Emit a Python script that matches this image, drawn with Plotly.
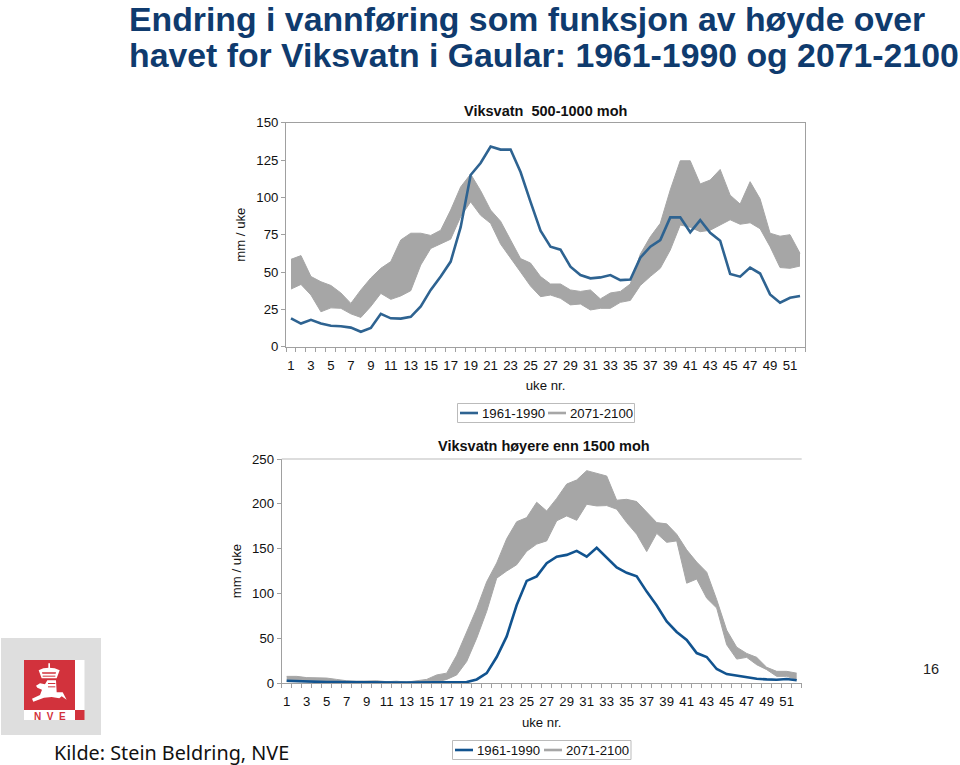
import plotly.graph_objects as go

TITLE_1 = "Endring i vannføring som funksjon av høyde over"
TITLE_2 = "havet for Viksvatn i Gaular: 1961-1990 og 2071-2100"
SOURCE = "Kilde: Stein Beldring, NVE"
PAGE_NO = "16"
CHART_A = "Viksvatn  500-1000 moh"
CHART_B = "Viksvatn høyere enn 1500 moh"
SERIES_OLD = "1961-1990"
SERIES_NEW = "2071-2100"

weeks = list(range(1, 53))
tick_weeks = list(range(1, 52, 2))

a_old = [19, 15.5, 18, 15.5, 14, 13.7, 12.8, 10, 12.5, 22, 19, 18.8, 20, 27, 38, 47, 57, 80, 115, 123, 134, 132, 132,
         117, 97, 77.7, 67, 65, 53.6, 48, 45.8, 46.4, 48, 44.6, 45, 59.6, 67, 71.4, 86.6, 86.6, 76.6, 84.8, 76.3, 71,
         48.7, 46.9, 53, 49, 35, 29.5, 32.8, 34]
a_new_high = [58.5, 61, 47, 43.5, 41, 36, 29, 38, 46, 52.5, 57, 71.5, 76, 76, 74.5, 78, 91.5, 107, 115.6, 104.5, 91.5,
              84, 71.5, 59, 56, 47, 42, 42, 38, 37, 38, 32, 36, 37, 42, 62, 73.6, 82.6, 105, 124.5, 124.5, 109, 111.6,
              118.7, 101.5, 95.5, 110.5, 99, 76, 74, 75, 62.5]
a_new_low = [38.6, 41.7, 34.6, 23.4, 26, 25.7, 22, 19.6, 27, 35.7, 31.7, 34, 37.5, 54.7, 65.8, 69, 72, 87, 97, 88, 82.6,
             68.7, 59, 50, 40.6, 33.5, 34.6, 32.4, 28, 28.6, 24.6, 25.7, 25.7, 29.7, 31, 41, 47, 52.5, 64.7, 81.5, 80,
             77, 78, 81.5, 85, 82, 83, 79, 67, 53, 52.5, 54]

b_old = [2.5, 2, 1.5, 1.3, 1, 1, 0.8, 0.8, 0.7, 0.7, 0.5, 0.5, 0.5, 0.5, 0.5, 0.5, 0.5, 0.5, 1, 4, 11, 29, 52, 87,
         114, 119, 133.7, 141, 143, 147.5, 141, 151, 140, 129, 123, 119, 102, 86.5, 68.7, 57, 48, 33.4, 29, 15.6, 10,
         8, 6.3, 4.8, 4, 3.7, 4.5, 3]
b_new_high = [7.4, 7.4, 6, 5.5, 5.5, 4, 2.5, 2, 2, 2.5, 1.5, 2, 1, 2.5, 4, 9, 11, 31, 57, 83, 113, 134, 161, 180,
              184.6, 201.7, 192, 206, 222, 226.6, 237, 234, 231, 204, 205, 202.5, 190.6, 179, 177.6, 166, 148.6, 135,
              123.7, 93, 59, 40, 33, 28.6, 17.5, 13, 13, 11]
b_new_low = [1.5, 1.5, 1, 1, 1, 0.8, 0.6, 0.6, 0.5, 0.5, 0.4, 0.4, 0.4, 0.4, 0.5, 1, 4, 9, 24, 50, 80, 117, 125, 132,
             147, 155, 158.6, 181, 186.5, 181.6, 199.5, 197.6, 198, 194, 179, 166, 146.7, 167, 157, 158.6, 111.4, 116,
             94.7, 83.6, 42.7, 26.7, 28.6, 20.4, 14.9, 7.4, 7.4, 3.7]

BAND = "#A6A6A6"
AXIS = "#A0A0A0"
FONT = "Liberation Sans"
RED = "#D2323C"
TITLE_COLOR = "#0F3B6E"
W, H = 960, 765


def X(px):
    return px / W


def Y(py):
    return 1 - py / H


fig = go.Figure()


def add_chart(old, low, high, line_color, xa, ya):
    fig.add_trace(go.Scatter(x=weeks, y=low, mode="lines", name=SERIES_NEW + " min", line=dict(color=BAND, width=1),
                             xaxis=xa, yaxis=ya, showlegend=False))
    fig.add_trace(go.Scatter(x=weeks, y=high, mode="lines", name=SERIES_NEW + " max", line=dict(color=BAND, width=1),
                             fill="tonexty", fillcolor=BAND, xaxis=xa, yaxis=ya, showlegend=False))
    fig.add_trace(go.Scatter(x=weeks, y=old, mode="lines", name=SERIES_OLD, line=dict(color=line_color, width=2.6),
                             xaxis=xa, yaxis=ya, showlegend=False))


add_chart(a_old, a_new_low, a_new_high, "#2E6391", "x", "y")
add_chart(b_old, b_new_low, b_new_high, "#11538F", "x2", "y2")

tfont = dict(size=13.2, color="#111111", family=FONT)
xcommon = dict(range=[0.5, 52.5], tickmode="array", tickvals=tick_weeks, ticktext=[str(t) for t in tick_weeks],
               ticks="", showgrid=False, showline=True, linecolor=AXIS, linewidth=1, zeroline=False,
               tickfont=tfont, ticklabelstandoff=6,
               title=dict(text="uke nr.", font=tfont, standoff=9),
               minor=dict(tick0=0.5, dtick=1, ticks="outside", ticklen=4, tickcolor=AXIS, showgrid=False))
ycommon = dict(showgrid=False, showline=True, linecolor=AXIS, linewidth=1, zeroline=False, ticks="outside", ticklen=4,
               tickcolor=AXIS, tickfont=tfont,
               title=dict(text="mm / uke", font=tfont, standoff=7))

fig.update_layout(
    width=W, height=H, margin=dict(l=0, r=0, t=0, b=0, autoexpand=False), autosize=False, showlegend=False,
    paper_bgcolor="white", plot_bgcolor="white",
    xaxis=dict(domain=[X(286), X(805)], anchor="y", mirror=True, **xcommon),
    yaxis=dict(domain=[Y(346.7), Y(122.7)], anchor="x", range=[0, 150], tickvals=[0, 25, 50, 75, 100, 125, 150],
               mirror=True, **ycommon),
    xaxis2=dict(domain=[X(281.7), X(801.7)], anchor="y2", **xcommon),
    yaxis2=dict(domain=[Y(683), Y(459)], anchor="x2", range=[0, 250], tickvals=[0, 50, 100, 150, 200, 250], **ycommon),
)


def text(txt, x, y, size, color, bold=False, anchor="left", family=FONT):
    fig.add_annotation(xref="paper", yref="paper", x=X(x), y=Y(y), text=f"<b>{txt}</b>" if bold else txt,
                       showarrow=False, xanchor=anchor, yanchor="middle", borderpad=0,
                       font=dict(size=size, color=color, family=family))


text(TITLE_1, 128, 19, 33.8, TITLE_COLOR, True)
text(TITLE_2, 128, 55.5, 33.8, TITLE_COLOR, True)
text(CHART_A, 545, 111, 14.5, "#111111", True, "center")
text(CHART_B, 544, 446, 14.5, "#111111", True, "center")
text(SOURCE, 53, 752, 19.8, "#111111", family="Noto Sans")
text(PAGE_NO, 931, 669, 14.5, "#222222", anchor="center")

fig.add_shape(type="line", xref="x2 domain", yref="y2 domain", x0=0, x1=1, y0=1, y1=1,
              line=dict(color="#BBBBBB", width=1))


def rect(x0, y0, x1, y1, fill, line=None):
    fig.add_shape(type="rect", xref="paper", yref="paper", x0=X(x0), x1=X(x1), y0=Y(y0), y1=Y(y1),
                  fillcolor=fill, line=dict(color=line or fill, width=1 if line else 0), layer="below")


def hline(x0, x1, y, color, width):
    fig.add_shape(type="line", xref="paper", yref="paper", x0=X(x0), x1=X(x1), y0=Y(y), y1=Y(y),
                  line=dict(color=color, width=width))


def legend_box(x0, x1, y0, y1, line_color, first_key, second_key):
    rect(x0, y0, x1, y1, "#FFFFFF", "#BBBBBB")
    ym = (y0 + y1) / 2
    hline(first_key, first_key + 18, ym, line_color, 2.6)
    text(SERIES_OLD, first_key + 21, ym, 13.2, "#111111")
    hline(second_key, second_key + 18, ym, BAND, 2.6)
    text(SERIES_NEW, second_key + 21, ym, 13.2, "#111111")


legend_box(457.5, 634.5, 403.5, 422.5, "#2E6391", 460, 548)
legend_box(452.5, 631, 740.5, 759.5, "#11538F", 455, 544)


def poly(points, fill):
    path = "M " + " L ".join(f"{X(20 + px / 3):.5f},{Y(655 + py / 3):.5f}" for px, py in points) + " Z"
    fig.add_shape(type="path", xref="paper", yref="paper", path=path, fillcolor=fill, line=dict(width=0), layer="below")


rect(1, 638, 101, 735, "#DEDEDE")
rect(24, 660, 75, 710, RED)
rect(75, 660, 84.5, 710, "#FFFFFF")
rect(24, 710, 75, 720, "#FFFFFF")
rect(75, 710, 84.5, 720, RED)
# crown
poly([(85, 25), (90, 25), (90, 42), (85, 42)], "#FFFFFF")
poly([(56, 46), (70, 40), (87, 38), (104, 40), (119, 46), (110, 70), (65, 70)], "#FFFFFF")
poly([(66, 52), (108, 52), (107, 56), (67, 56)], RED)
poly([(68, 62), (106, 62), (106, 65), (68, 65)], RED)
# lion/horse mark
poly([(48, 92), (60, 85), (75, 88), (82, 76), (108, 76), (110, 112), (128, 112), (140, 134), (125, 124), (118, 130),
      (95, 126), (72, 128), (40, 140), (36, 131), (60, 120), (66, 104), (52, 98)], "#FFFFFF")
poly([(84, 84), (106, 84), (106, 87), (84, 87)], RED)
poly([(84, 94), (106, 94), (106, 97), (84, 97)], RED)
text("N  V  E", 50, 716, 10, RED, True, "center")

fig.write_html("out.html", config=dict(displayModeBar=False),
               post_script="document.body.style.margin='0';document.body.style.overflow='hidden';")
